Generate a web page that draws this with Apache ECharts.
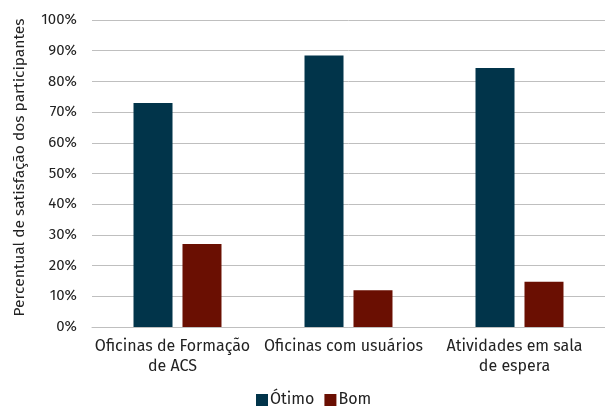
<!DOCTYPE html>
<html>
<head>
<meta charset="utf-8">
<script src="https://cdn.jsdelivr.net/npm/echarts@6/dist/echarts.min.js"></script>
<style>html,body{margin:0;padding:0;background:#fff;}#c{width:605px;height:406px;}</style>
</head>
<body>
<div id="c"></div>
<script>
var categories = ['Oficinas de Formação\nde ACS', 'Oficinas com usuários', 'Atividades em sala\nde espera'];
var otimo = [73.0, 88.4, 84.4];
var bom = [27.0, 12.0, 14.7];
var yTicks = [0, 10, 20, 30, 40, 50, 60, 70, 80, 90, 100];

var font = '"Fira Sans","Open Sans","Noto Sans",sans-serif';
var chart = echarts.init(document.getElementById('c'), null, {renderer: 'canvas'});
chart.setOption({
  animation: false,
  textStyle: {fontFamily: font},
  grid: {left: 92, right: 0, top: 20, bottom: 79, containLabel: false, outerBoundsMode: 'none'},
  legend: {
    top: 390, left: 256, padding: 0,
    itemWidth: 12, itemHeight: 12, itemGap: 10,
    icon: 'rect',
    textStyle: {fontSize: 16, lineHeight: 20, color: '#222', fontFamily: font, padding: [0, 0, 0, -3]},
    data: ['Ótimo', 'Bom']
  },
  xAxis: {
    type: 'category',
    data: categories,
    axisTick: {show: false},
    axisLine: {lineStyle: {color: '#bfbfbf', width: 1}},
    axisLabel: {fontSize: 16, color: '#222', lineHeight: 20, margin: 10, interval: 0, fontFamily: font, padding: [0, 10, 0, 0]}
  },
  yAxis: {
    type: 'value', min: 0, max: 100, interval: 10,
    name: 'Percentual de satisfação dos participantes',
    nameLocation: 'middle', nameGap: 64, nameRotate: 90,
    nameTextStyle: {fontSize: 15.5, color: '#222', fontFamily: font, padding: [0, 0, 0, 12]},
    axisLine: {show: false}, axisTick: {show: false},
    axisLabel: {fontSize: 15, color: '#222', margin: 15, fontFamily: font,
      formatter: function(v){ return yTicks.indexOf(v) >= 0 ? v + '%' : ''; }},
    splitLine: {lineStyle: {color: '#bfbfbf', width: 1}}
  },
  series: [
    {name: 'Ótimo', type: 'bar', data: otimo, barWidth: 39, barGap: '25.6%', itemStyle: {color: '#01344a'}},
    {name: 'Bom', type: 'bar', data: bom, barWidth: 39, itemStyle: {color: '#6a0f02'}}
  ]
});
</script>
</body>
</html>
